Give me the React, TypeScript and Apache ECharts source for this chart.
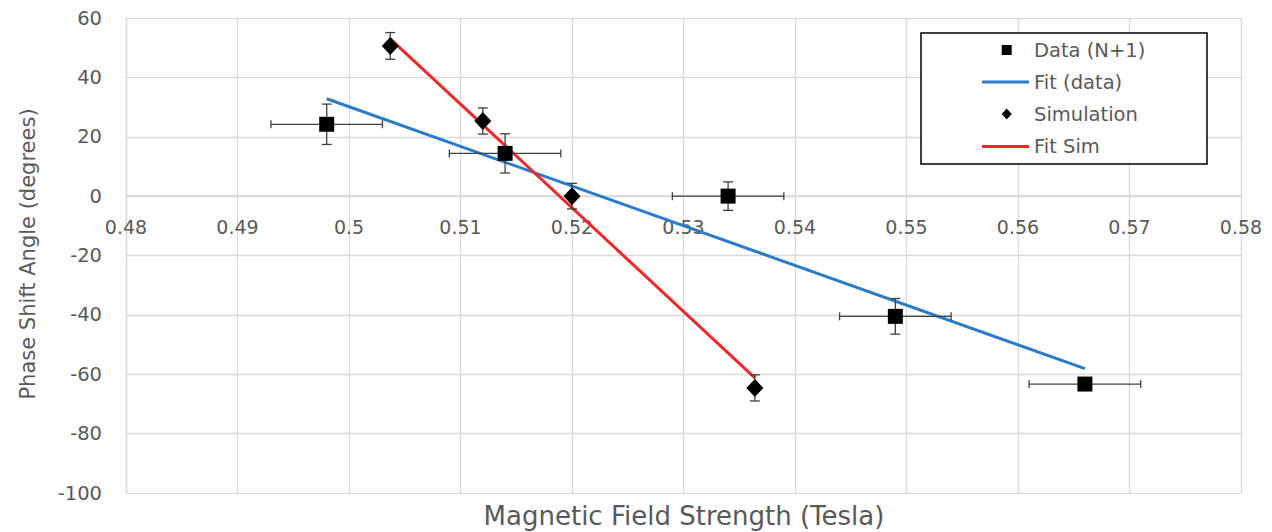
import React, { useEffect, useRef } from "react";
import * as echarts from "echarts";

const xTicks = { min: 0.48, max: 0.58, interval: 0.01 };
const yTicks = { min: -100, max: 60, interval: 20 };

const dataX = [0.498, 0.514, 0.534, 0.549, 0.566];
const dataY = [24.2, 14.4, 0, -40.5, -63.3];
const dataXErr = [0.005, 0.005, 0.005, 0.005, 0.005];
const dataYErr = [6.8, 6.6, 4.8, 6.0, 2.0];

const simX = [0.5037, 0.512, 0.52, 0.5364];
const simY = [50.6, 25.3, 0, -64.6];
const simYErr = [4.5, 4.4, 4.3, 4.4];

const fitDataX = [0.498, 0.566];
const fitDataY = [32.8, -58.1];
const fitSimX = [0.5037, 0.5364];
const fitSimY = [53, -61.2];

const legendNames = ["Data (N+1)", "Fit (data)", "Simulation", "Fit Sim"];
const xTitle = "Magnetic Field Strength (Tesla)";
const yTitle = "Phase Shift Angle (degrees)";

const FONT = "'DejaVu Sans', Verdana, sans-serif";
const GRAY = "#595959";
const GRID = "#d9d9d9";
const BLUE = "#2a7bc8";
const RED = "#f02828";
const ERR = "#404040";

function errRender(params: any, api: any) {
  const x = api.value(0);
  const y = api.value(1);
  const xe = api.value(2);
  const ye = api.value(3);
  const children: any[] = [];
  const st = { stroke: ERR, lineWidth: 1.3 };
  if (xe > 0) {
    const l = api.coord([x - xe, y]);
    const r = api.coord([x + xe, y]);
    children.push({ type: "line", shape: { x1: l[0], y1: l[1], x2: r[0], y2: r[1] }, style: st });
    children.push({ type: "line", shape: { x1: l[0], y1: l[1] - 4, x2: l[0], y2: l[1] + 4 }, style: st });
    children.push({ type: "line", shape: { x1: r[0], y1: r[1] - 4, x2: r[0], y2: r[1] + 4 }, style: st });
  }
  if (ye > 0) {
    const t = api.coord([x, y + ye]);
    const b = api.coord([x, y - ye]);
    children.push({ type: "line", shape: { x1: t[0], y1: t[1], x2: b[0], y2: b[1] }, style: st });
    children.push({ type: "line", shape: { x1: t[0] - 5, y1: t[1], x2: t[0] + 5, y2: t[1] }, style: st });
    children.push({ type: "line", shape: { x1: b[0] - 5, y1: b[1], x2: b[0] + 5, y2: b[1] }, style: st });
  }
  return { type: "group", children };
}

export default function App() {
  const ref = useRef<HTMLDivElement>(null);
  useEffect(() => {
    document.body.style.margin = "0";
    const chart = echarts.init(ref.current!, null, { renderer: "svg" });
    const dataErr = dataX.map((x, i) => [x, dataY[i], dataXErr[i], dataYErr[i]]);
    const simErr = simX.map((x, i) => [x, simY[i], 0, simYErr[i]]);

    const gridTop = 18, gridBottom = 39, H = 532;
    const gridH = H - gridTop - gridBottom;
    // shift x axis up so it crosses y = 0
    const zeroOffset = -((0 - yTicks.min) / (yTicks.max - yTicks.min)) * gridH;

    const LX = 921, LY = 33, LW = 286, LH = 131;
    const mx = 1006.7, tx = 1034;
    const rows = [50, 82, 114, 146.5];

    const option: any = {
      animation: false,
      backgroundColor: "#ffffff",
      grid: { left: 126, right: 31, top: gridTop, bottom: gridBottom, containLabel: false },
      xAxis: {
        type: "value",
        min: xTicks.min,
        max: xTicks.max,
        interval: xTicks.interval,
        offset: zeroOffset,
        axisLine: { show: true, onZero: false, lineStyle: { color: GRID, width: 1.5 } },
        axisTick: { show: false },
        axisLabel: { color: GRAY, fontSize: 19, fontFamily: FONT, margin: 21 },
        splitLine: { show: true, lineStyle: { color: GRID, width: 1.3 } },
      },
      yAxis: {
        type: "value",
        min: yTicks.min,
        max: yTicks.max,
        interval: yTicks.interval,
        axisLine: { show: true, onZero: false, lineStyle: { color: GRID, width: 1.3 } },
        axisTick: { show: false },
        axisLabel: { color: GRAY, fontSize: 19.5, fontFamily: FONT, margin: 24 },
        splitLine: { show: true, lineStyle: { color: GRID, width: 1.3 } },
      },
      series: [
        {
          name: legendNames[1],
          type: "line",
          data: fitDataX.map((x, i) => [x, fitDataY[i]]),
          symbol: "none",
          lineStyle: { color: BLUE, width: 3 },
          z: 1,
        },
        {
          name: legendNames[3],
          type: "line",
          data: fitSimX.map((x, i) => [x, fitSimY[i]]),
          symbol: "none",
          lineStyle: { color: RED, width: 3 },
          z: 1,
        },
        {
          type: "custom",
          renderItem: errRender,
          data: dataErr,
          encode: { x: 0, y: 1 },
          z: 2,
        },
        {
          type: "custom",
          renderItem: errRender,
          data: simErr,
          encode: { x: 0, y: 1 },
          z: 2,
        },
        {
          name: legendNames[0],
          type: "scatter",
          data: dataX.map((x, i) => [x, dataY[i]]),
          symbol: "rect",
          symbolSize: 15,
          itemStyle: { color: "#000000", opacity: 1 },
          z: 3,
        },
        {
          name: legendNames[2],
          type: "scatter",
          data: simX.map((x, i) => [x, simY[i]]),
          symbol: "diamond",
          symbolSize: [17, 18],
          itemStyle: { color: "#000000", opacity: 1 },
          z: 3,
        },
      ],
      graphic: [
        {
          type: "text",
          x: 684,
          y: 516,
          style: {
            text: xTitle,
            fill: GRAY,
            font: `26px ${FONT}`,
            align: "center",
            verticalAlign: "middle",
          },
        },
        {
          type: "text",
          x: 28,
          y: 254,
          rotation: Math.PI / 2,
          style: {
            text: yTitle,
            fill: GRAY,
            font: `21px ${FONT}`,
            align: "center",
            verticalAlign: "middle",
          },
        },
        {
          type: "rect",
          shape: { x: LX, y: LY, width: LW, height: LH },
          style: { fill: "#ffffff", stroke: "#000000", lineWidth: 1.5 },
          z: 10,
        },
        {
          type: "rect",
          shape: { x: mx - 5, y: rows[0] - 5, width: 10, height: 10 },
          style: { fill: "#000000" },
          z: 11,
        },
        {
          type: "line",
          shape: { x1: 982, y1: rows[1], x2: 1029, y2: rows[1] },
          style: { stroke: BLUE, lineWidth: 3 },
          z: 11,
        },
        {
          type: "polygon",
          shape: {
            points: [
              [mx, rows[2] - 5.5],
              [mx + 5, rows[2]],
              [mx, rows[2] + 5.5],
              [mx - 5, rows[2]],
            ],
          },
          style: { fill: "#000000" },
          z: 11,
        },
        {
          type: "line",
          shape: { x1: 982, y1: rows[3], x2: 1029, y2: rows[3] },
          style: { stroke: RED, lineWidth: 3 },
          z: 11,
        },
        ...legendNames.map((n, i) => ({
          type: "text",
          x: tx,
          y: rows[i],
          style: {
            text: n,
            fill: GRAY,
            font: `19.5px ${FONT}`,
            align: "left",
            verticalAlign: "middle",
          },
          z: 11,
        })),
      ],
    };
    chart.setOption(option);
    return () => chart.dispose();
  }, []);
  return (
    <div
      ref={ref}
      style={{ position: "fixed", left: 0, top: 0, width: 1272, height: 532 }}
    />
  );
}
